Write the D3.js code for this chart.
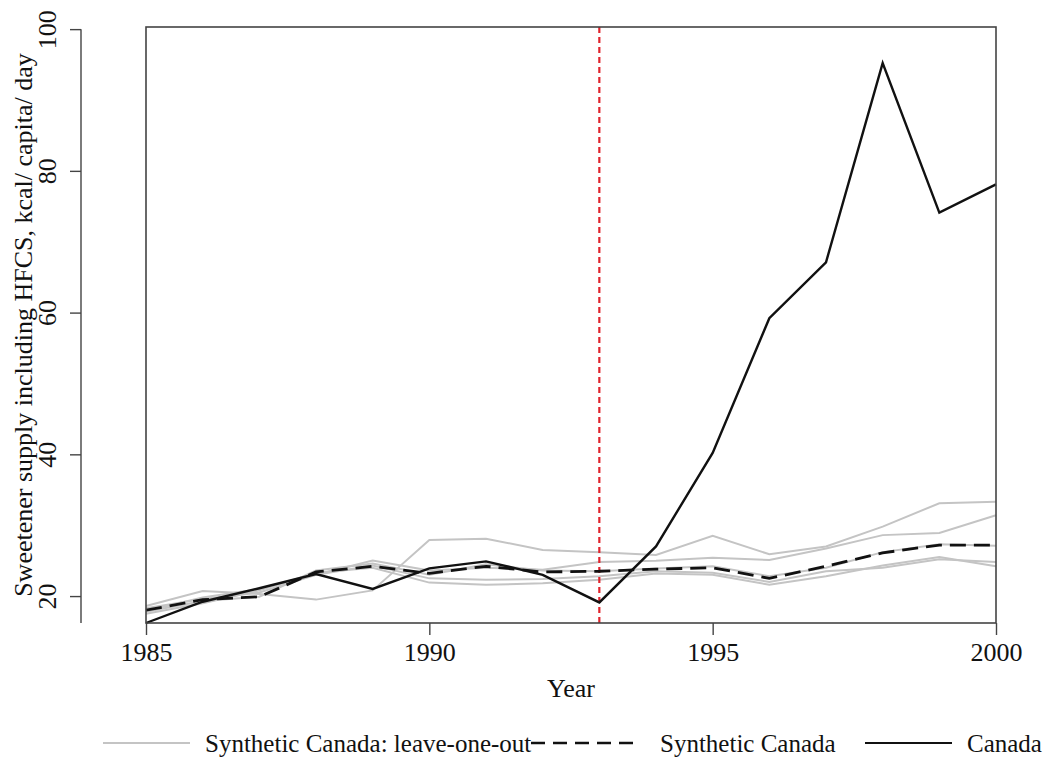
<!DOCTYPE html>
<html>
<head>
<meta charset="utf-8">
<script src="https://cdn.jsdelivr.net/npm/d3@7"></script>
<style>
  body { margin: 0; background: #fff; }
  text { font-family: 'Liberation Serif', 'Times New Roman', serif; fill: #111; }
</style>
</head>
<body>
<script>
const years = d3.range(1985, 2001)
const canada = [16.2, 19.2, 21.1, 23.1, 21.0, 23.9, 24.9, 23.0, 19.1, 27.0, 40.2, 59.2, 67.1, 95.2, 74.1, 78.1]
const synthetic = [18.0, 19.5, 19.9, 23.4, 24.2, 23.2, 24.2, 23.4, 23.5, 23.8, 24.0, 22.5, 24.2, 26.1, 27.2, 27.2]
const leaveOut1 = [18.6, 20.7, 20.3, 19.5, 20.8, 27.9, 28.1, 26.5, 26.2, 25.8, 28.5, 25.9, 27.0, 29.8, 33.1, 33.3]
const leaveOut2 = [18.3, 19.6, 20.5, 23.0, 25.0, 23.6, 24.0, 23.7, 24.8, 25.0, 25.4, 25.1, 26.7, 28.6, 28.9, 31.4]
const leaveOut3 = [17.8, 19.3, 19.9, 23.6, 24.6, 23.0, 24.5, 23.6, 23.5, 23.9, 24.2, 22.8, 24.0, 26.2, 27.3, 27.1]
const leaveOut4 = [17.5, 19.0, 20.8, 23.3, 24.0, 21.9, 21.6, 21.8, 22.3, 23.2, 23.0, 21.6, 22.8, 24.3, 25.5, 24.2]
const leaveOut5 = [17.9, 19.8, 21.0, 23.0, 24.3, 22.5, 22.3, 22.4, 22.8, 23.5, 23.3, 22.0, 23.5, 24.0, 25.2, 24.8]
const leaveOuts = [leaveOut1, leaveOut2, leaveOut3, leaveOut4, leaveOut5]
const xTicks = [1985, 1990, 1995, 2000]
const yTicks = [20, 40, 60, 80, 100]
const treatYear = 1993
const legendLabels = ['Synthetic Canada: leave-one-out', 'Synthetic Canada', 'Canada']

const svgWidth = 1053, svgHeight = 762
const box = {left: 146, right: 996, top: 27, bottom: 623}
const yAxisX = 81

const svg = d3.select('body').append('svg')
  .attr('width', svgWidth)
  .attr('height', svgHeight)

const x = d3.scaleLinear().domain([1985, 2000]).range([box.left, box.right])
const y = d3.scaleLinear().domain([16.2, 100.3]).range([box.bottom, box.top])

const line = d3.line()
  .x(function(d, i) { return x(years[i]) })
  .y(function(d) { return y(d) })

// leave-one-out runs
svg.append('g').selectAll('path')
  .data(leaveOuts)
  .enter().append('path')
  .attr('d', line)
  .attr('fill', 'none')
  .attr('stroke', '#c4c4c4')
  .attr('stroke-width', 2)

svg.append('line')
  .attr('x1', x(treatYear)).attr('x2', x(treatYear))
  .attr('y1', box.top).attr('y2', box.bottom)
  .attr('stroke', '#e0242c')
  .attr('stroke-width', 2.2)
  .attr('stroke-dasharray', '6,4')

svg.append('path')
  .datum(synthetic)
  .attr('d', line)
  .attr('fill', 'none')
  .attr('stroke', '#111')
  .attr('stroke-width', 2.8)
  .attr('stroke-dasharray', '16,8')

svg.append('path')
  .datum(canada)
  .attr('d', line)
  .attr('fill', 'none')
  .attr('stroke', '#111')
  .attr('stroke-width', 2.4)

svg.append('rect')
  .attr('x', box.left).attr('y', box.top)
  .attr('width', box.right - box.left)
  .attr('height', box.bottom - box.top)
  .attr('fill', 'none')
  .attr('stroke', '#444')
  .attr('stroke-width', 1.6)

// x axis
const xAxis = svg.append('g')
  .attr('transform', 'translate(0,' + box.bottom + ')')
  .call(d3.axisBottom(x).tickValues(xTicks).tickFormat(d3.format('d')).tickSize(12).tickPadding(8))
xAxis.select('.domain').remove()
xAxis.selectAll('line').attr('stroke', '#444').attr('stroke-width', 1.4)
xAxis.selectAll('text').attr('font-size', 26).attr('font-family', 'Liberation Serif')

// y axis, drawn off to the left of the box
const yAxis = svg.append('g')
  .attr('transform', 'translate(' + yAxisX + ',0)')
  .call(d3.axisLeft(y).tickValues(yTicks).tickSize(11).tickFormat(d3.format('d')))
yAxis.select('.domain').remove()
yAxis.append('line')
  .attr('x1', 0).attr('x2', 0)
  .attr('y1', y(100)).attr('y2', box.bottom)
  .attr('stroke', '#444').attr('stroke-width', 1.4)
yAxis.selectAll('.tick line').attr('stroke', '#444').attr('stroke-width', 1.4)
yAxis.selectAll('.tick text')
  .attr('font-size', 26)
  .attr('font-family', 'Liberation Serif')
  .attr('text-anchor', 'middle')
  .attr('dy', 0)
  .attr('x', 0)
  .attr('transform', 'translate(-25,0) rotate(-90)')

svg.append('text')
  .attr('x', (box.left + box.right) / 2)
  .attr('y', 697)
  .attr('text-anchor', 'middle')
  .attr('font-size', 26)
  .text('Year')

svg.append('text')
  .attr('transform', 'translate(32,' + (box.top + box.bottom) / 2 + ') rotate(-90)')
  .attr('text-anchor', 'middle')
  .attr('font-size', 26)
  .text('Sweetener supply including HFCS, kcal/ capita/ day')

// legend
const legendY = 743
const legend = svg.append('g')
legend.append('line')
  .attr('x1', 103).attr('x2', 190).attr('y1', legendY).attr('y2', legendY)
  .attr('stroke', '#c4c4c4').attr('stroke-width', 2)
legend.append('text').attr('x', 205).attr('y', legendY + 9).attr('font-size', 25).text(legendLabels[0])
legend.append('line')
  .attr('x1', 531).attr('x2', 640).attr('y1', legendY).attr('y2', legendY)
  .attr('stroke', '#111').attr('stroke-width', 2.4).attr('stroke-dasharray', '14,8')
legend.append('text').attr('x', 660).attr('y', legendY + 9).attr('font-size', 25).text(legendLabels[1])
legend.append('line')
  .attr('x1', 865).attr('x2', 952).attr('y1', legendY).attr('y2', legendY)
  .attr('stroke', '#111').attr('stroke-width', 2.2)
legend.append('text').attr('x', 967).attr('y', legendY + 9).attr('font-size', 25).text(legendLabels[2])
</script>
</body>
</html>
